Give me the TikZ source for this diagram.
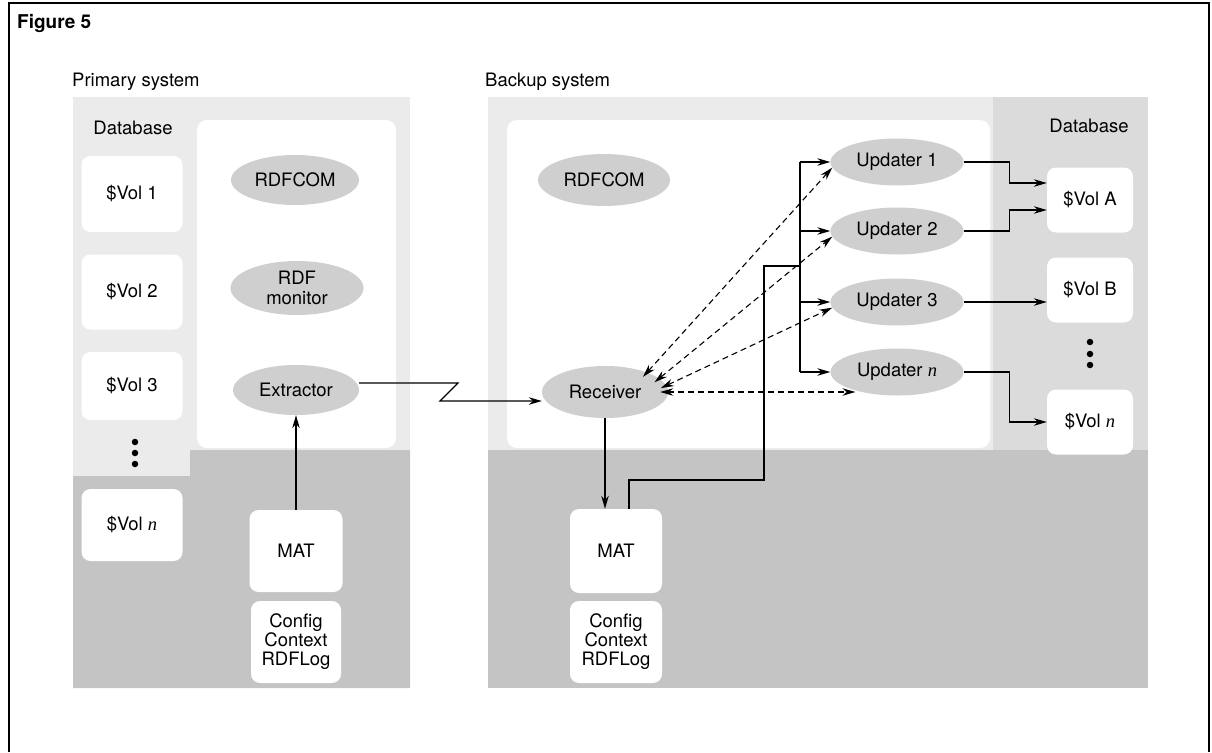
\documentclass[tikz,border=0pt]{standalone}
\usepackage{fontspec}
\setmainfont{TeX Gyre Heros}
\newfontfamily\timesfont{Liberation Serif}
\usetikzlibrary{shapes.geometric,arrows.meta}
\newcommand\itn{{\timesfont\itshape n}}
\begin{document}
\begin{tikzpicture}[x=1pt,y=-1pt,
  txt/.style={font=\fontsize{18.5}{19}\selectfont, inner sep=0pt},
  proc/.style={ellipse, fill=black!19, inner sep=0pt, font=\fontsize{18.5}{20}\selectfont, align=center},
  wbox/.style={fill=white, rounded corners=9pt, inner sep=0pt, font=\fontsize{18.5}{19}\selectfont, align=center},
  light/.style={fill=black!8},
  medium/.style={fill=black!14},
  dense/.style={fill=black!23},
  conn/.style={line width=1.2pt},
  arr/.style={conn, -{Stealth[length=13pt,width=7.5pt]}},
  darr/.style={line width=1.1pt, dash pattern=on 6pt off 4pt,
     {Stealth[length=13pt,width=7.5pt]}-{Stealth[length=13pt,width=7.5pt]}},
  vdot/.style={circle, fill=black, inner sep=0pt, minimum size=6.5pt}]
\useasboundingbox (0,0) rectangle (1212,752);
% frame
\draw[line width=1.5pt] (9,752) -- (9,3) -- (1209,3) -- (1209,752);
\node[anchor=west, inner sep=0pt, font=\bfseries\fontsize{19}{19}\selectfont] (fig) at (17,23) {Figure 5};
\node[txt, anchor=west] (ptitle) at (72,82) {Primary system};
\node[txt, anchor=west] (btitle) at (485,82) {Backup system};

% ---------- primary system background
\fill[light] (73,97) rectangle (410,688);
\fill[dense] (190,450) -- (410,450) -- (410,688) -- (73,688) -- (73,476) -- (190,476) -- cycle;
\fill[white, rounded corners=10pt] (197,120) rectangle (396,448);

% ---------- backup system background
\fill[light] (488,97) rectangle (1148,688);
\fill[medium] (993,97) rectangle (1148,688);
\fill[dense] (488,450) rectangle (1148,688);
\fill[white, rounded corners=10pt] (507,120) rectangle (990,448);

% ---------- primary nodes
\node[txt] (pdb) at (133,128) {Database};
\node[wbox, minimum width=101pt, minimum height=76pt] (pv1) at (132,194) {\$Vol 1};
\node[wbox, minimum width=101pt, minimum height=75pt] (pv2) at (132,292) {\$Vol 2};
\node[wbox, minimum width=101pt, minimum height=68pt] (pv3) at (132,386) {\$Vol 3};
\node[vdot] (pd1) at (135,442) {};
\node[vdot] (pd2) at (135,453) {};
\node[vdot] (pd3) at (135,464) {};
\node[wbox, minimum width=101pt, minimum height=72pt] (pvn) at (132,525) {\$Vol \itn};
\node[wbox, minimum width=93pt, minimum height=82pt] (pmat) at (296,551) {MAT};
\node[wbox, minimum width=90pt, minimum height=82pt] (pcfg) at (296,642) {Config\\Context\\RDFLog};
\node[proc, minimum width=128pt, minimum height=50pt] (prdf) at (295,180) {RDFCOM};
\node[proc, minimum width=133pt, minimum height=54pt] (pmon) at (297,288) {RDF\\monitor};
\node[proc, minimum width=126pt, minimum height=50pt] (pext) at (296,390) {Extractor};

% ---------- backup nodes
\node[proc, minimum width=132pt, minimum height=52pt] (brdf) at (604,180) {RDFCOM};
\node[proc, minimum width=126pt, minimum height=52pt] (recv) at (605,392) {Receiver};
\node[wbox, minimum width=92pt, minimum height=84pt] (bmat) at (616,551) {MAT};
\node[wbox, minimum width=92pt, minimum height=82pt] (bcfg) at (616,642) {Config\\Context\\RDFLog};
\node[proc, minimum width=133pt, minimum height=47pt] (upd1) at (897,162) {Updater 1};
\node[proc, minimum width=133pt, minimum height=47pt] (upd2) at (897,231) {Updater 2};
\node[proc, minimum width=133pt, minimum height=47pt] (upd3) at (897,302) {Updater 3};
\node[proc, minimum width=133pt, minimum height=47pt] (updn) at (897,372) {Updater \itn};
\node[txt] (bdb) at (1089,126) {Database};
\node[wbox, minimum width=86pt, minimum height=65pt] (vola) at (1090,200) {\$Vol A};
\node[wbox, minimum width=86pt, minimum height=65pt] (volb) at (1090,290) {\$Vol B};
\node[vdot] (bd1) at (1090,342) {};
\node[vdot] (bd2) at (1090,354) {};
\node[vdot] (bd3) at (1090,365) {};
\node[wbox, minimum width=86pt, minimum height=65pt] (voln) at (1090,422) {\$Vol \itn};

% ---------- connectors
\coordinate (z1) at (458,383);
\coordinate (z2) at (440,401);
\coordinate (j1) at (764,480);
\coordinate (j2) at (800,266);
\coordinate (btop) at (800,162);
\coordinate (bbot) at (800,372);

\draw[arr] (pmat.north) -- (pext.south);
\draw[arr] ([yshift=7pt]pext.east) -- (z1) -- (z2) -- (recv.west |- z2);
\draw[arr] (recv.south) -- (recv.south |- bmat.north);
\draw[conn] ([xshift=13pt]bmat.north) |- (j1) |- (j2);
\draw[conn] (btop) -- (bbot);
\draw[arr] (btop) -- (upd1.west);
\draw[arr] (upd2.west -| btop) -- (upd2.west);
\draw[arr] (upd3.west -| btop) -- (upd3.west);
\draw[arr] (bbot) -- (updn.west);

\draw[darr, shorten <=-6pt] (recv.25) -- (upd1.185);
\draw[darr, shorten <=-6pt] (recv.14) -- (upd2.185);
\draw[darr, shorten <=-6pt] (recv.6) -- (upd3.185);
\draw[darr, shorten <=-8pt] (recv.east) -- (recv.east -| updn.204);

\draw[arr] (upd1.east) -- ++(46,0) |- ([yshift=17pt]vola.west);
\draw[arr] (upd2.east) -- ++(46,0) |- ([yshift=-10pt]vola.west);
\draw[arr] (upd3.east) -- (volb.west |- upd3.east);
\draw[arr] (updn.east) -- ++(46,0) |- (voln.west);
\end{tikzpicture}
\end{document}
